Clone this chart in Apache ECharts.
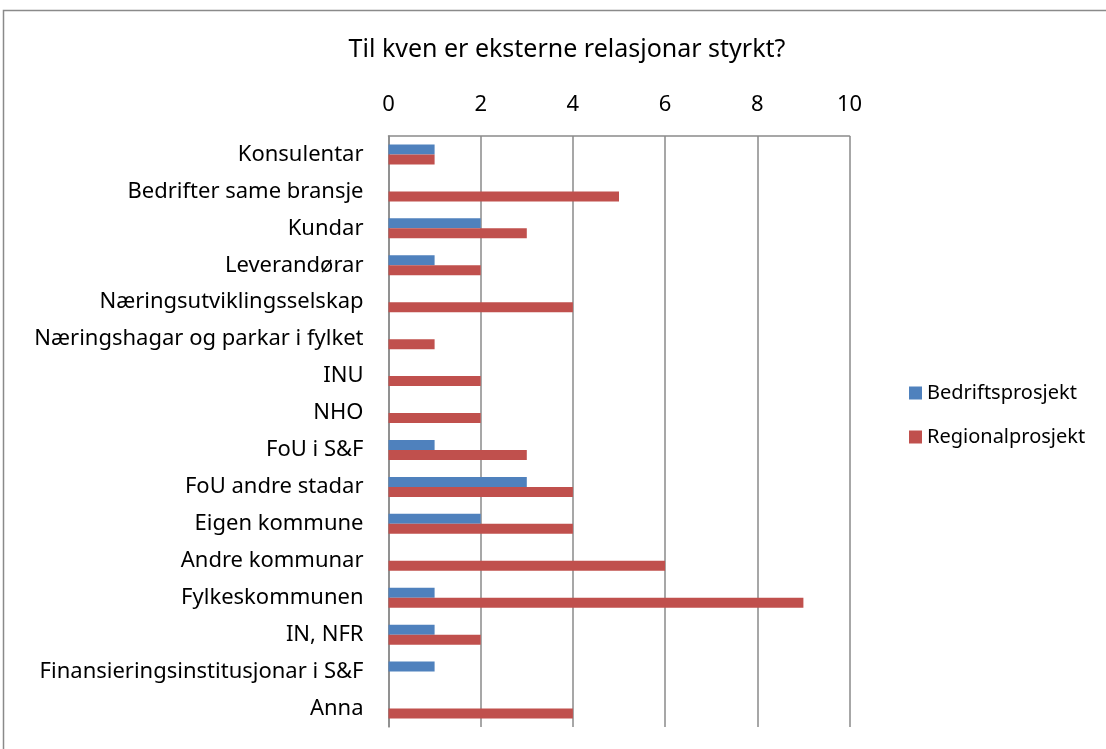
<!DOCTYPE html>
<html lang="no" style="height: 100%">
<head>
    <meta charset="UTF-8">
    <title>Til kven er eksterne relasjonar styrkt?</title>
    <script type="text/javascript" src="https://cdn.jsdelivr.net/npm/echarts@6/dist/echarts.min.js"></script>
</head>
<body style="height: 100%; margin: 0; background: #fff">
<div id="container" style="width: 1106px; height: 749px"></div>
<script type="text/javascript">
    var categories = ['Konsulentar', 'Bedrifter same bransje', 'Kundar', 'Leverandørar',
        'Næringsutviklingsselskap', 'Næringshagar og parkar i fylket', 'INU', 'NHO',
        'FoU i S&F', 'FoU andre stadar', 'Eigen kommune', 'Andre kommunar',
        'Fylkeskommunen', 'IN, NFR', 'Finansieringsinstitusjonar i S&F', 'Anna'];
    var bedriftsprosjekt = [1, null, 2, 1, null, null, null, null, 1, 3, 2, null, 1, 1, 1, null];
    var regionalprosjekt = [1, 5, 3, 2, 4, 1, 2, 2, 3, 4, 4, 6, 9, 2, null, 4];
    var xTicks = [0, 2, 4, 6, 8, 10];

    var font = 'Noto Sans';
    var myChart = echarts.init(document.getElementById('container'));
    myChart.setOption({
        animation: false,
        textStyle: {fontFamily: font},
        title: {
            text: 'Til kven er eksterne relasjonar styrkt?',
            left: 562, top: 32, textAlign: 'center',
            textStyle: {fontSize: 25, fontWeight: 'normal', color: '#000', fontFamily: font}
        },
        graphic: [{
            type: 'rect', shape: {x: 3.5, y: 10.5, width: 1110, height: 760},
            style: {fill: 'none', stroke: '#8a8a8a', lineWidth: 1.5}, silent: true
        }],
        legend: {
            orient: 'vertical', left: 904, top: 378, itemGap: 24,
            itemWidth: 13, itemHeight: 13, icon: 'rect',
            textStyle: {fontSize: 20, color: '#000', fontFamily: font},
            data: ['Bedriftsprosjekt', 'Regionalprosjekt']
        },
        grid: {left: 388.5, right: 256.5, top: 136, bottom: 22},
        xAxis: {
            type: 'value', position: 'top', min: xTicks[0], max: xTicks[xTicks.length - 1], interval: 2,
            axisLine: {show: true, lineStyle: {color: '#8a8a8a', width: 1.5}},
            axisTick: {show: false},
            axisLabel: {fontSize: 22, color: '#000', margin: 20},
            splitLine: {lineStyle: {color: '#8a8a8a', width: 1.5}}
        },
        yAxis: {
            type: 'category', inverse: true, data: categories,
            axisLine: {lineStyle: {color: '#8a8a8a', width: 1.5}},
            axisTick: {show: false},
            axisLabel: {fontSize: 22, color: '#000', margin: 25, padding: [4, 0, 0, 0]}
        },
        series: [{
            name: 'Bedriftsprosjekt', type: 'bar', data: bedriftsprosjekt,
            barGap: 0, barCategoryGap: '46%',
            itemStyle: {color: '#4f81bd'}
        }, {
            name: 'Regionalprosjekt', type: 'bar', data: regionalprosjekt,
            barGap: 0, barCategoryGap: '46%',
            itemStyle: {color: '#c0504d'}
        }]
    });
</script>
</body>
</html>
